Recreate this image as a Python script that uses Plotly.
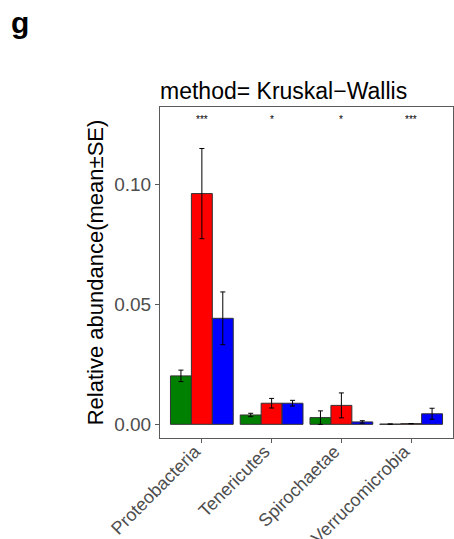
import plotly.graph_objects as go

categories = ["Proteobacteria", "Tenericutes", "Spirochaetae", "Verrucomicrobia"]
group_names = ["G1", "G2", "G3"]
group_colors = ["#008000", "#FF0000", "#0000FF"]
means = [
    [0.0202, 0.0039, 0.0028, 0.0001],
    [0.0962, 0.0088, 0.0079, 0.0003],
    [0.0442, 0.0088, 0.0010, 0.0044],
]
ses = [
    [0.0024, 0.0007, 0.0028, 0.0000],
    [0.0188, 0.0020, 0.0052, 0.0000],
    [0.0110, 0.0012, 0.0005, 0.0023],
]
signif = ["***", "*", "*", "***"]
y_ticks = [0.0, 0.05, 0.10]
y_tick_labels = ["0.00", "0.05", "0.10"]

FONT = "Liberation Sans, Arial, Helvetica, sans-serif"
AXCOL = "#5A5A5A"

L, R, T, B = 160, 1, 107, 101
PW, PH = 454 - L - R, 539 - T - B

fig = go.Figure()
for name, col, m, s in zip(group_names, group_colors, means, ses):
    fig.add_trace(go.Bar(
        x=categories, y=m, name=name,
        marker=dict(color=col, line=dict(color="#333333", width=1)),
        error_y=dict(type="data", array=s, visible=True, color="black",
                     thickness=1, width=2.5),
        showlegend=False,
    ))

for c, s in zip(categories, signif):
    fig.add_annotation(x=c, y=0.1272, xref="x", yref="y", text=s,
                       showarrow=False, font=dict(size=10, color="black", family=FONT))

fig.add_annotation(x=(20 - L) / PW, y=1 + (T - 23) / PH, xref="paper", yref="paper",
                   text="<b>g</b>", showarrow=False, xanchor="center", yanchor="middle",
                   font=dict(size=30, color="black", family=FONT))

fig.update_layout(
    width=454, height=539,
    margin=dict(l=L, r=R, t=T, b=B, autoexpand=False),
    paper_bgcolor="white", plot_bgcolor="white",
    barmode="group", bargap=0.1, bargroupgap=0,
    font=dict(family=FONT),
    title=dict(text="method= Kruskal\u2212Wallis", x=160 / 454, xanchor="left",
               y=1 - 91 / 539, yanchor="middle",
               font=dict(size=23, color="black", family=FONT)),
    xaxis=dict(range=[-0.6, 3.6], showgrid=False, zeroline=False, automargin=False,
               ticks="outside", ticklen=4, tickcolor=AXCOL, tickwidth=1,
               tickangle=-45, tickfont=dict(size=18, color="#4D4D4D", family=FONT),
               ticklabelstandoff=-9, ticklabelshift=-7,
               showline=True, linecolor=AXCOL, linewidth=1, mirror=True),
    yaxis=dict(range=[-0.0057, 0.1323], showgrid=False, zeroline=False, automargin=False,
               tickvals=y_ticks, ticktext=y_tick_labels,
               ticks="outside", ticklen=4, tickcolor=AXCOL, tickwidth=1,
               tickfont=dict(size=19, color="#4D4D4D", family=FONT),
               showline=True, linecolor=AXCOL, linewidth=1, mirror=True,
               title=dict(text="Relative abundance(mean±SE)", standoff=4,
                          font=dict(size=22, color="black", family=FONT))),
)

fig.write_html("out.html")
